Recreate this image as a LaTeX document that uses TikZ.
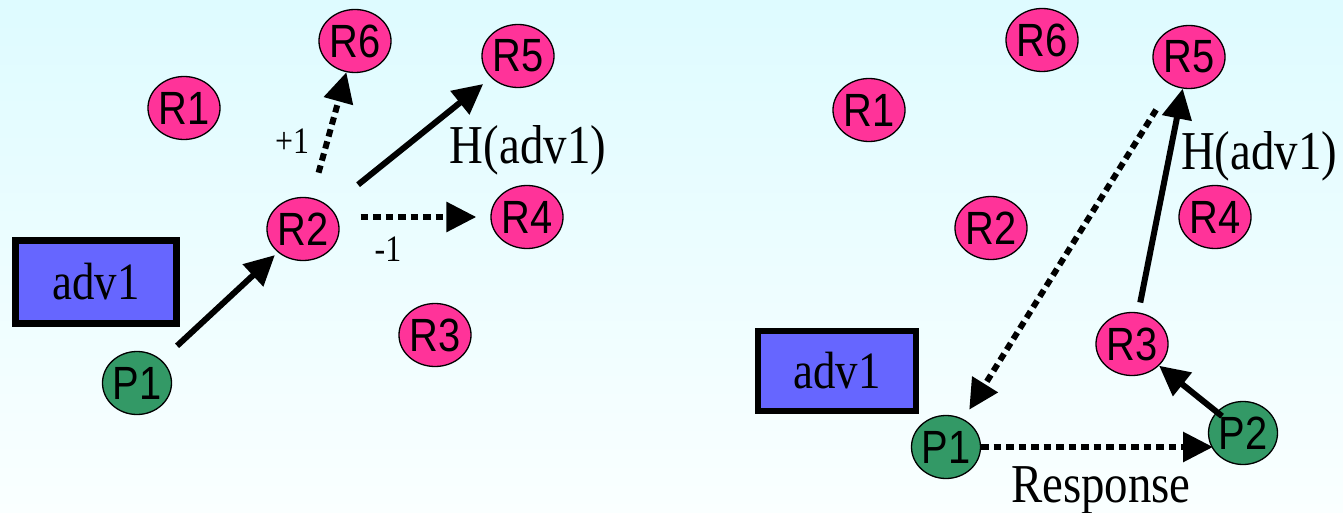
\documentclass[tikz,border=0pt]{standalone}
\usepackage{graphicx}
\usepackage{fontspec}
\setmainfont{Liberation Serif}
\newfontfamily\arialfont{Liberation Sans}
\usetikzlibrary{shapes.geometric,arrows.meta,calc}
\newcommand\vstretch[1]{\scalebox{1}[1.17]{#1}}
\definecolor{bgtop}{RGB}{222,251,255}
\definecolor{bgbot}{RGB}{250,255,255}
\definecolor{rpink}{RGB}{255,51,153}
\definecolor{pgreen}{RGB}{51,153,102}
\definecolor{advblue}{RGB}{102,102,255}
\tikzset{
  rnode/.style={ellipse,draw=black,line width=1.3bp,fill=rpink,minimum width=69bp,minimum height=63bp,inner sep=0pt,font=\arialfont\fontsize{40}{40}\selectfont},
  pnode/.style={rnode,fill=pgreen},
  advbox/.style={draw=black,line width=6.5bp,fill=advblue,inner sep=0pt,font=\fontsize{45}{45}\selectfont},
  bigarrow/.style={line width=6bp,-{Triangle[length=30bp,width=29bp]}},
  dotarrow/.style={bigarrow,dash pattern=on 7.5bp off 5bp},
  lbl/.style={inner sep=0pt,font=\fontsize{47}{47}\selectfont},
  smalllbl/.style={inner sep=0pt,font=\fontsize{32}{32}\selectfont}
}
\begin{document}
\begin{tikzpicture}[x=1bp,y=-1bp]
\shade[top color=bgtop,bottom color=bgbot] (0,0) rectangle (1343,513);
\useasboundingbox (0,0) rectangle (1343,513);
% left panel
\node[rnode] (LR6) at (355,41) {\vstretch{R6}};
\node[rnode] (LR5) at (518,56) {\vstretch{R5}};
\node[rnode] (LR1) at (184,108) {\vstretch{R1}};
\node[rnode] (LR2) at (303,229) {\vstretch{R2}};
\node[rnode] (LR4) at (527,217) {\vstretch{R4}};
\node[rnode] (LR3) at (435,335) {\vstretch{R3}};
\node[pnode] (LP1) at (137,383) {\vstretch{P1}};
\node[advbox,minimum width=161bp,minimum height=83bp] (Ladv) at (96,282) {\vstretch{adv1}};
\draw[bigarrow,shorten <=21bp,shorten >=4bp] (LP1) -- (LR2);
\draw[dotarrow,shorten <=26bp] (LR2) -- (LR6);
\draw[bigarrow,shorten <=36bp,shorten >=10bp] (LR2) -- (LR5);
\draw[dotarrow,shorten <=21bp,shorten >=14bp] (LR2.east |- LR4) -- (LR4);
\node[smalllbl] (Lp1) at (292,141) {\vstretch{+1}};
\node[lbl] (LH) at (528,150) {\vstretch{H(adv1)}};
\node[smalllbl] (Lm1) at (388,249) {\vstretch{-1}};
% right panel
\node[rnode] (RR6) at (1042,40) {\vstretch{R6}};
\node[rnode] (RR5) at (1189,57) {\vstretch{R5}};
\node[rnode] (RR1) at (869,110) {\vstretch{R1}};
\node[rnode] (RR2) at (991,228) {\vstretch{R2}};
\node[rnode] (RR4) at (1215,217) {\vstretch{R4}};
\node[rnode] (RR3) at (1132,344) {\vstretch{R3}};
\node[pnode] (RP1) at (946,447) {\vstretch{P1}};
\node[pnode] (RP2) at (1243,433) {\vstretch{P2}};
\node[advbox,minimum width=158bp,minimum height=80bp] (Radv) at (837,371) {\vstretch{adv1}};
\draw[dotarrow,shorten <=29bp,shorten >=11bp] (RR5) -- (RP1);
\draw[bigarrow,shorten <=10bp] (RR3) -- (RR5);
\draw[bigarrow,shorten <=-7bp] (RP2) -- (RR3);
\draw[dotarrow] (RP1.east) -- ($(RP1.east -| RP2)+(-30bp,0)$);
\node[lbl] (RH) at (1259,156) {\vstretch{H(adv1)}};
\node[lbl] (Resp) at (1101,490) {\vstretch{Response}};
\end{tikzpicture}
\end{document}
